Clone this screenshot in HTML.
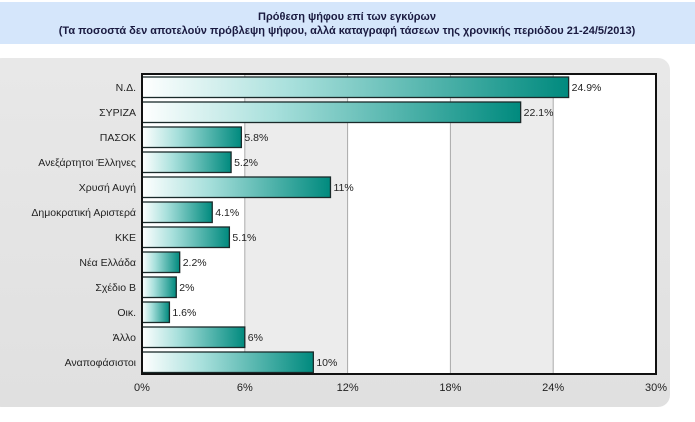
<!DOCTYPE html>
<html><head><meta charset="utf-8"><style>
body{margin:0;width:695px;height:417px;background:#fff;font-family:"Liberation Sans","DejaVu Sans",sans-serif;overflow:hidden}
</style></head><body>
<svg width="695" height="417" xmlns="http://www.w3.org/2000/svg">
<defs>
<linearGradient id="bg" x1="0" y1="0" x2="0" y2="1"><stop offset="0" stop-color="#e8e8e8"/><stop offset="1" stop-color="#e0e0e0"/></linearGradient>
<linearGradient id="bar" x1="0" y1="0" x2="1" y2="0"><stop offset="0" stop-color="#ffffff"/><stop offset="0.35" stop-color="#a8e0dc"/><stop offset="1" stop-color="#008a7e"/></linearGradient>
</defs>
<rect x="0" y="2" width="695" height="42" fill="#d5e6fb"/>
<text x="347" y="20" text-anchor="middle" font-size="11" font-weight="bold" fill="#1a1a40">Πρόθεση ψήφου επί των εγκύρων</text>
<text x="347" y="34" text-anchor="middle" font-size="11" font-weight="bold" fill="#1a1a40">(Τα ποσοστά δεν αποτελούν πρόβλεψη ψήφου, αλλά καταγραφή τάσεων της χρονικής περιόδου 21-24/5/2013)</text>
<rect x="-10" y="58" width="680" height="349" rx="12" fill="url(#bg)"/>
<g id="plot"></g>
</svg>
<script>
const categories=["Ν.Δ.","ΣΥΡΙΖΑ","ΠΑΣΟΚ","Ανεξάρτητοι Έλληνες","Χρυσή Αυγή","Δημοκρατική Αριστερά","ΚΚΕ","Νέα Ελλάδα","Σχέδιο Β","Οικ.","Άλλο","Αναποφάσιστοι"];
const values=[24.9,22.1,5.8,5.2,11,4.1,5.1,2.2,2,1.6,6,10];
const valueLabels=["24.9%","22.1%","5.8%","5.2%","11%","4.1%","5.1%","2.2%","2%","1.6%","6%","10%"];
const ticks=[0,6,12,18,24,30];
const tickLabels=["0%","6%","12%","18%","24%","30%"];
const NS="http://www.w3.org/2000/svg";
const g=document.getElementById('plot');
const X0=142,X1=656,Y0=74,Y1=374,MAX=30;
const x=v=>X0+(v/MAX)*(X1-X0);
const rowH=(Y1-Y0)/categories.length;
const y=i=>Y0+i*rowH;
function mk(t,a){const e=document.createElementNS(NS,t);for(const k in a)e.setAttribute(k,a[k]);g.appendChild(e);return e;}
for(let i=0;i<ticks.length-1;i++){
 const r=mk('rect',{x:x(ticks[i]),y:Y0,width:x(ticks[i+1])-x(ticks[i]),height:Y1-Y0,fill:i%2?'#ececec':'#ffffff'});
 
 
}
ticks.forEach((t,i)=>{
 if(i>0&&i<ticks.length-1){const l=mk('line',{x1:x(t),x2:x(t),y1:Y0,y2:Y1,stroke:'#aaa','stroke-width':1});
 
 }
 const tx=mk('text',{x:x(t),y:391,'text-anchor':'middle','font-size':11,fill:'#222'});
 tx.textContent=tickLabels[i];
 
 
});
categories.forEach((c,i)=>{
 const b=mk('rect',{x:X0,y:y(i)+3,width:x(values[i])-X0,height:rowH-4.5,fill:'url(#bar)',stroke:'#1a2a2a','stroke-width':1.3});
 
 
 const lb=mk('text',{x:X0-6,y:y(i)+rowH/2+4.5,'text-anchor':'end','font-size':10.5,fill:'#222'});
 lb.textContent=c;
 
 
 const vl=mk('text',{x:x(values[i])+3,y:y(i)+rowH/2+4.5,'font-size':10.5,fill:'#222'});
 vl.textContent=valueLabels[i];
 
 
});
const fr=mk('rect',{x:X0,y:Y0,width:X1-X0,height:Y1-Y0,fill:'none',stroke:'#111','stroke-width':2});


</script>
</body></html>
